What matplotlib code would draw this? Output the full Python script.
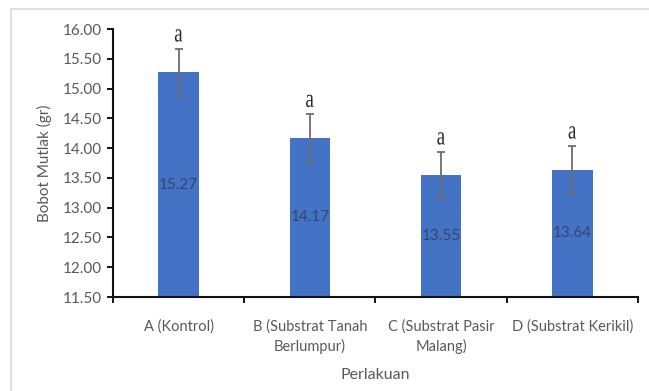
import matplotlib.pyplot as plt
import numpy as np
from matplotlib.lines import Line2D
from matplotlib.patches import PathPatch
from matplotlib.textpath import TextPath
from matplotlib.font_manager import FontProperties
from matplotlib.transforms import Affine2D, ScaledTranslation

# data
categories = ["A (Kontrol)", "B (Substrat Tanah\nBerlumpur)", "C (Substrat Pasir\nMalang)", "D (Substrat Kerikil)"]
means = [15.27, 14.17, 13.55, 13.64]
errors = [0.40, 0.40, 0.39, 0.40]
letters = ["a", "a", "a", "a"]
yticks = [11.5, 12.0, 12.5, 13.0, 13.5, 14.0, 14.5, 15.0, 15.5, 16.0]

base = 11.5
gray = "#595959"

fig = plt.figure(figsize=(6.49, 3.91), dpi=100)
ax = fig.add_axes([0.1741, 0.2404, 0.8089, 0.6854])

x = np.arange(len(categories))
heights = [m - base for m in means]
ax.bar(x, heights, bottom=base, width=0.31, color="#4472C4", zorder=2)
ax.errorbar(x, means, yerr=errors, fmt="none", ecolor="#6d6d6d",
            elinewidth=1.3, capsize=3, capthick=1.3, zorder=3)

# data labels in middle of bars
for xi, m in zip(x, means):
    ax.text(xi, (base + m) / 2, f"{m:.2f}", ha="center", va="center",
            fontsize=11, color="#34476b", family="Lato", zorder=4)

# significance letters - narrow, tall serif glyph, so draw it as a stretched path
serif = FontProperties(family="Liberation Serif")
for xi, m, e, l in zip(x, means, errors, letters):
    tp = TextPath((0, 0), l, size=1, prop=serif)
    ext = tp.get_extents()
    sx = 7.5 / ext.width
    sy = 12.5 / ext.height
    tr = (Affine2D().translate(-(ext.x0 + ext.width / 2), -ext.y0).scale(sx, sy).translate(0, 7)
          + ScaledTranslation(xi, m + e, ax.transData))
    patch = PathPatch(tp, transform=tr, facecolor="#2a2a2a", edgecolor="none")
    patch.set_clip_on(False)
    fig.add_artist(patch)

ax.set_xlim(-0.5, len(categories) - 0.5)
ax.set_ylim(11.5, 16.0)
ax.set_yticks(yticks)
ax.set_yticklabels([f"{t:.2f}" for t in yticks], fontsize=11, color=gray, family="Lato")
ax.set_xticks(x)
ax.set_xticklabels(categories, fontsize=10.5, color=gray, family="Lato", linespacing=1.45)
ax.set_xticks(np.arange(-0.5, len(categories)), minor=True)
ax.tick_params(axis="x", which="major", length=0, pad=16)
ax.tick_params(axis="x", which="minor", length=4, width=1.3, direction="out")
ax.tick_params(axis="y", length=4, width=1.3, direction="out", pad=4)

for s in ["top", "right"]:
    ax.spines[s].set_visible(False)
for s in ["left", "bottom"]:
    ax.spines[s].set_linewidth(1.5)
    ax.spines[s].set_color("#111111")

ax.set_ylabel("Bobot Mutlak (gr)", fontsize=11, color=gray, family="Lato", labelpad=8)
ax.set_xlabel("Perlakuan", fontsize=11.5, color=gray, family="Lato", labelpad=10)

# light frame of the chart area
fig.add_artist(Line2D([11 / 649, 1], [1 - 9 / 391, 1 - 9 / 391], transform=fig.transFigure,
                      color="#e0e0e0", lw=1.5))
fig.add_artist(Line2D([11 / 649, 11 / 649], [0, 1 - 9 / 391], transform=fig.transFigure,
                      color="#e0e0e0", lw=1.5))

fig.savefig("out.png", dpi=100)
